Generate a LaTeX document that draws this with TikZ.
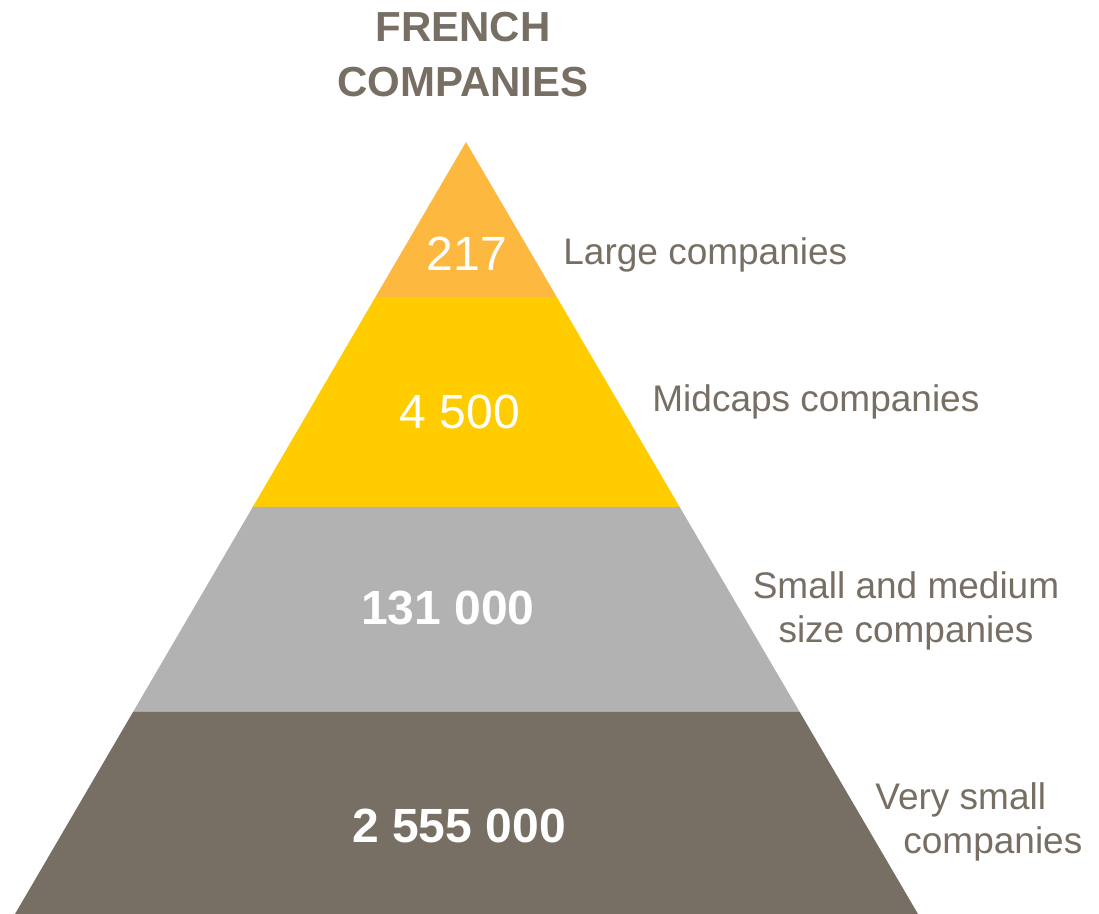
\documentclass[tikz,border=0pt]{standalone}
\usepackage{fontspec}
\setmainfont{Liberation Sans}
\usetikzlibrary{calc}
\definecolor{bandorange}{HTML}{FDB83F}
\definecolor{bandyellow}{HTML}{FFCC00}
\definecolor{bandgrey}{HTML}{B2B2B2}
\definecolor{banddark}{HTML}{776E64}
\definecolor{txtgrey}{HTML}{776E64}

\begin{document}
\begin{tikzpicture}[x=0.5pt,y=-0.5pt,
  num/.style={white,inner sep=0pt,anchor=base,font=\fontsize{24}{29}\selectfont},
  lbl/.style={txtgrey,inner sep=0pt,font=\fontsize{18.5}{22}\selectfont}]
\useasboundingbox (0,0) rectangle (1099,914);
\coordinate (top) at (466,142);
\coordinate (bl) at (15,914);
\coordinate (br) at (918,914);
\coordinate (l1) at ($(top)!0.2008!(bl)$);
\coordinate (r1) at ($(top)!0.2008!(br)$);
\coordinate (l2) at ($(top)!0.4728!(bl)$);
\coordinate (r2) at ($(top)!0.4728!(br)$);
\coordinate (l3) at ($(top)!0.7383!(bl)$);
\coordinate (r3) at ($(top)!0.7383!(br)$);
% bands
\fill[bandorange] (top) -- (r1) -- (l1) -- cycle;
\fill[bandyellow] (l1) -- (r1) -- (r2) -- (l2) -- cycle;
\fill[bandgrey] (l2) -- (r2) -- (r3) -- (l3) -- cycle;
\fill[banddark] (l3) -- (r3) -- (br) -- (bl) -- cycle;
% title
\node[txtgrey,inner sep=0pt,align=center,font=\fontsize{21}{27.5}\selectfont\bfseries] (title) at (463,54.5) {FRENCH\\COMPANIES};
% numbers
\node[num] (n1) at (467,271) {217};
\node[num] (n2) at (460,429) {4 500};
\node[num,font=\fontsize{24}{29}\selectfont\bfseries] (n3) at (448,625) {131 000};
\node[num,font=\fontsize{24}{29}\selectfont\bfseries] (n4) at (459,842) {2 555 000};
% labels
\node[lbl,anchor=base west] (t1) at (563,265) {Large companies};
\node[lbl,anchor=base west] (t2) at (652,412) {Midcaps companies};
\node[lbl,align=center] (t3) at (906,611) {Small and medium\\size companies};
\node[lbl,align=left,anchor=west] (t4) at (875,822) {Very small\\\hspace*{14pt}companies};
\end{tikzpicture}
\end{document}
